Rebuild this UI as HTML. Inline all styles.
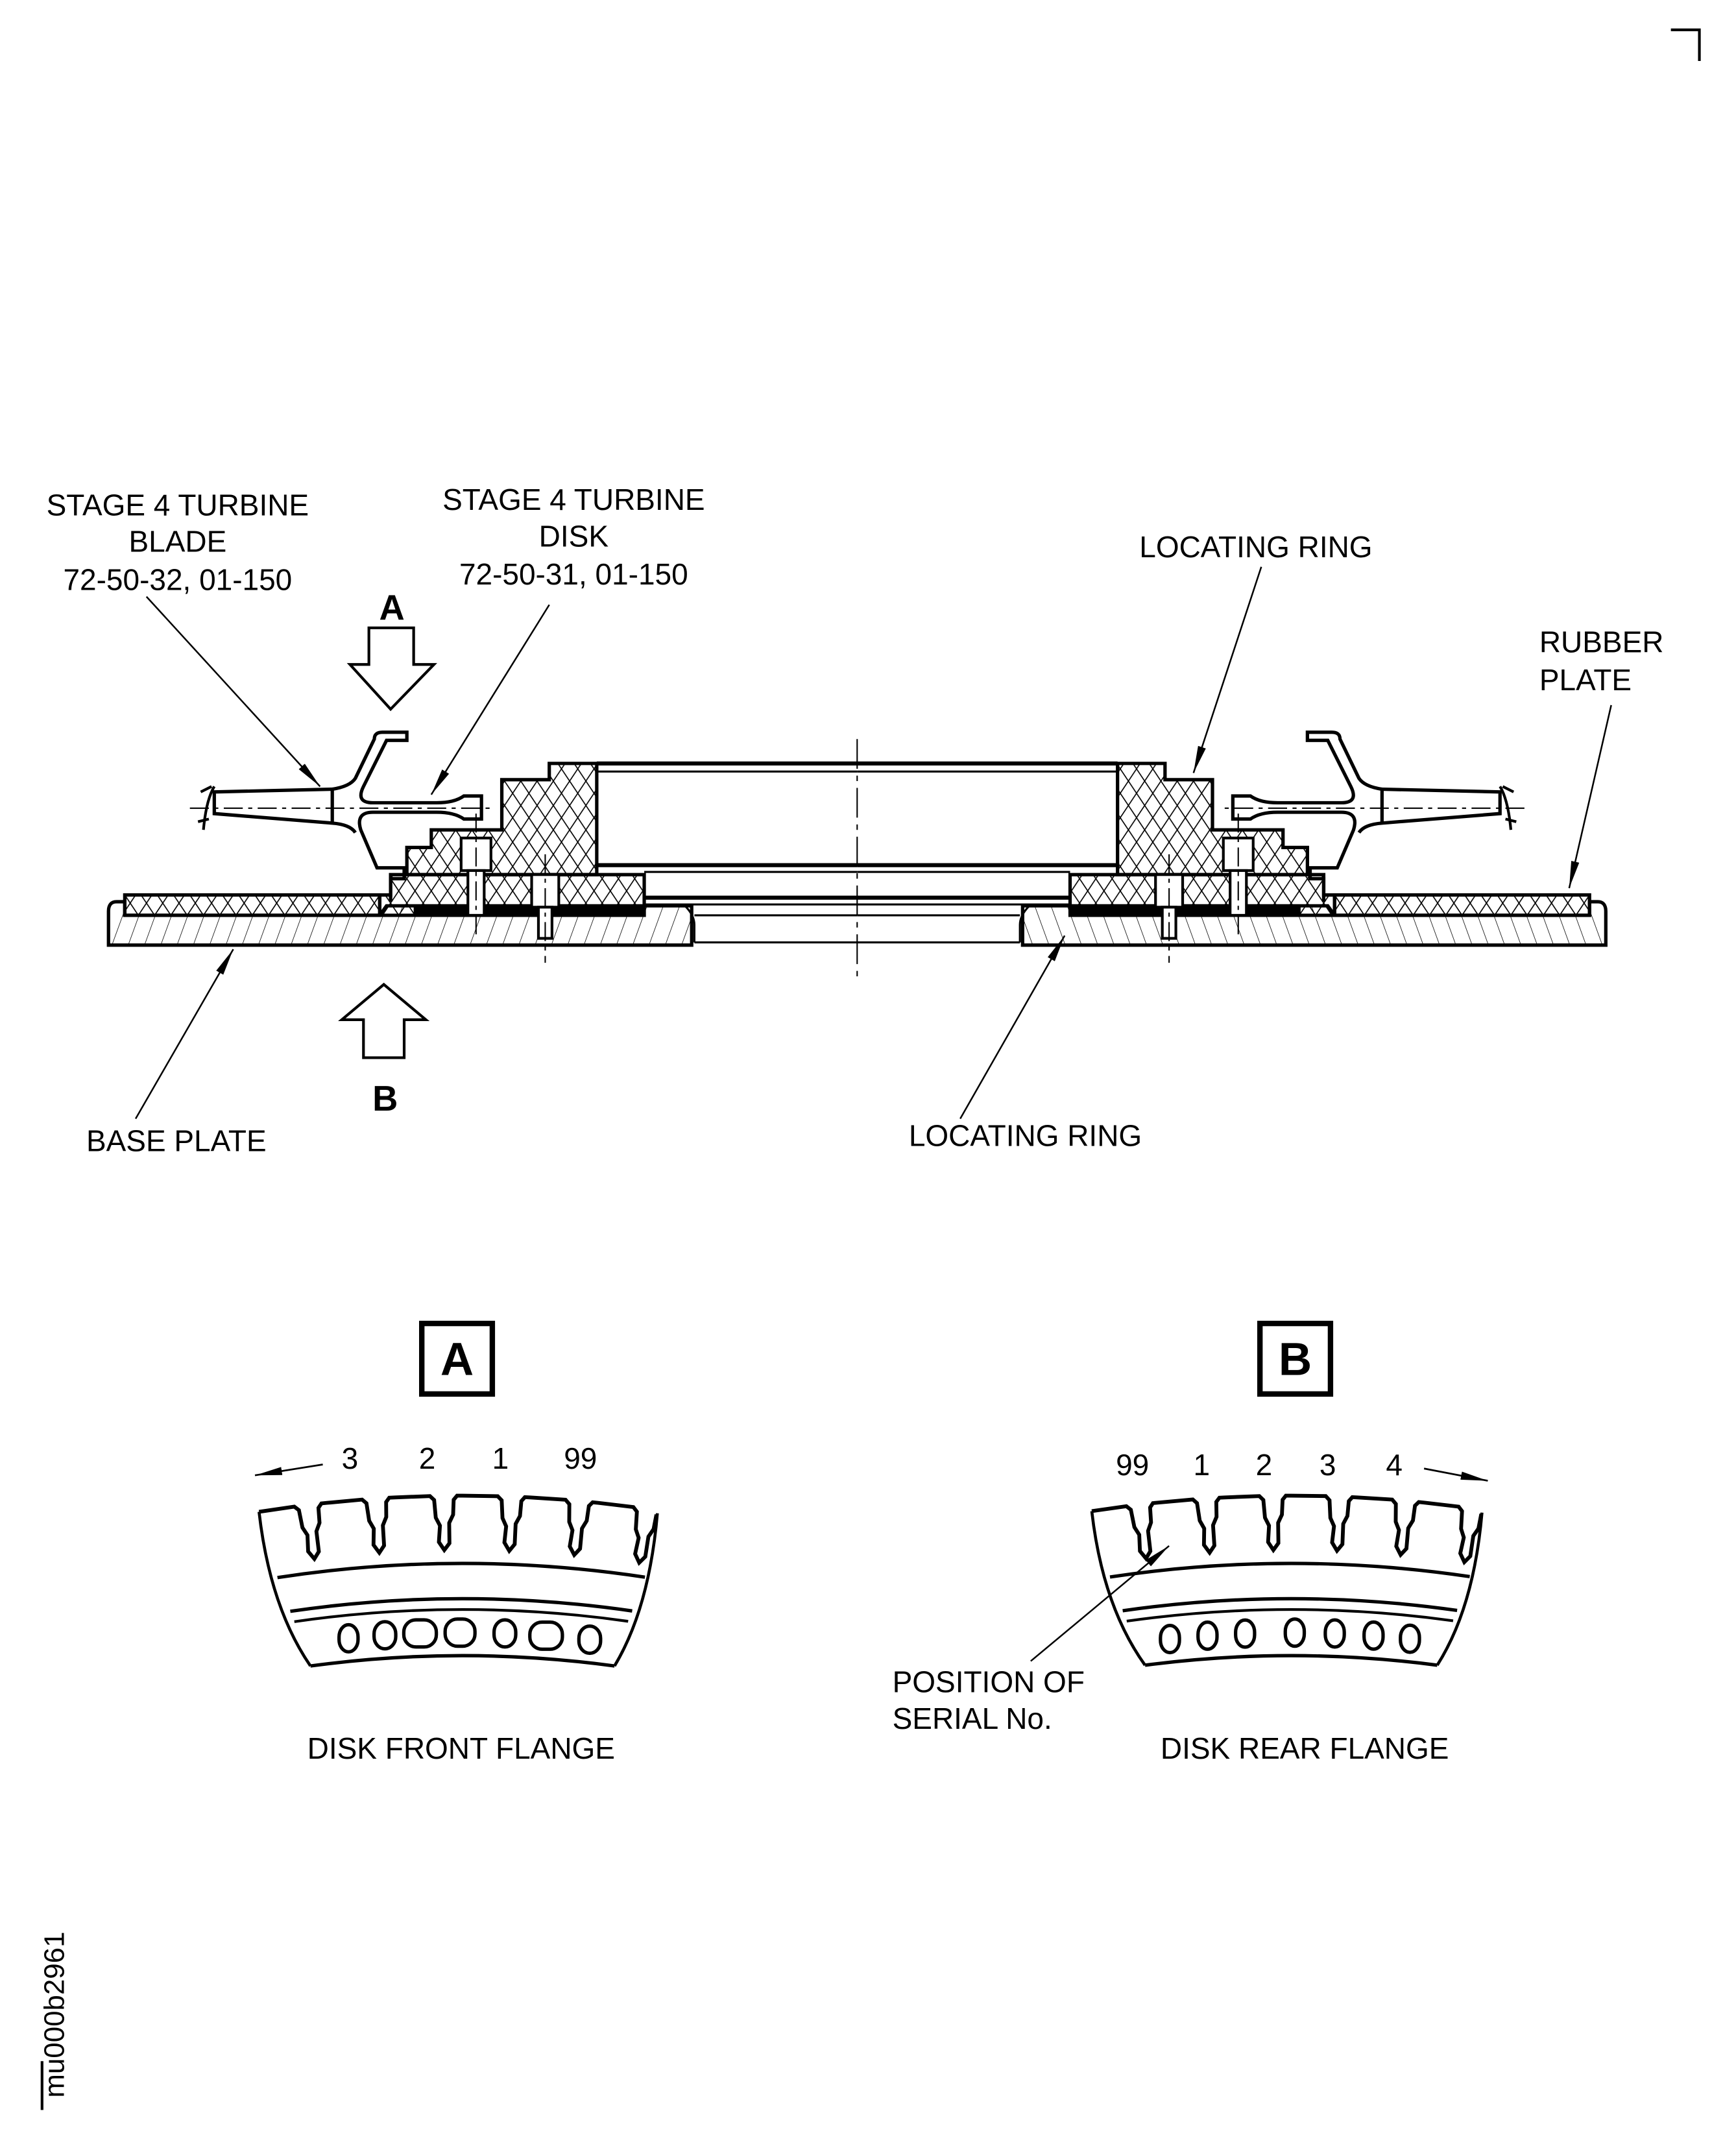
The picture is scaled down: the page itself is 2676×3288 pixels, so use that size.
<!DOCTYPE html>
<html><head><meta charset="utf-8"><style>
html,body{margin:0;padding:0;background:#fff}
svg{display:block}
text{font-family:"Liberation Sans",sans-serif;fill:#000}
</style></head><body>
<svg id="s" width="2676" height="3288" viewBox="0 0 1280 1573" preserveAspectRatio="none" xmlns="http://www.w3.org/2000/svg">
<defs>
<pattern id="xh" width="12" height="18" patternUnits="userSpaceOnUse">
<path d="M0 0L12 18M12 0L0 18" stroke="#000" stroke-width="0.8"/>
</pattern>
<pattern id="dh" width="12" height="40" patternUnits="userSpaceOnUse" patternTransform="skewX(-20)">
<path d="M0 0V40" stroke="#000" stroke-width="0.8"/>
</pattern>
<marker id="ar2" markerWidth="20" markerHeight="8" refX="20" refY="4" orient="auto" markerUnits="userSpaceOnUse">
<path d="M0 1L20 4L0 7Z" fill="#000"/>
</marker>
</defs>

<path d="M1232 22H1253V45" fill="none" stroke="#000" stroke-width="2"/>
<path d="M31 1520V1556" fill="none" stroke="#000" stroke-width="2"/>
<text x="0" y="0" font-size="21" transform="translate(47 1547) rotate(-90)">mu000b2961</text>

<g font-size="22" text-anchor="middle">
<text x="131" y="380">STAGE 4 TURBINE</text>
<text x="131" y="407">BLADE</text>
<text x="131" y="435">72-50-32, 01-150</text>
<text x="423" y="376">STAGE 4 TURBINE</text>
<text x="423" y="403">DISK</text>
<text x="423" y="431">72-50-31, 01-150</text>
<text x="926" y="411">LOCATING RING</text>
<text x="130" y="849">BASE PLATE</text>
<text x="756" y="845">LOCATING RING</text>
<text x="340" y="1297">DISK FRONT FLANGE</text>
<text x="962" y="1297">DISK REAR FLANGE</text>
</g>
<g font-size="22">
<text x="1135" y="481">RUBBER</text>
<text x="1135" y="509">PLATE</text>
<text x="658" y="1248">POSITION OF</text>
<text x="658" y="1275">SERIAL No.</text>
</g>
<text x="289" y="457" font-size="26" font-weight="bold" text-anchor="middle">A</text>
<text x="284" y="819" font-size="26" font-weight="bold" text-anchor="middle">B</text>

<path d="M272 463H305V490H320L288 523L258 490H272Z" fill="#fff" stroke="#000" stroke-width="2"/>
<path d="M268 780H298V752H314L283 726L252 752H268Z" fill="#fff" stroke="#000" stroke-width="2"/>

<g stroke="#000" stroke-width="1.2" fill="none">
<line x1="108" y1="440" x2="236" y2="580" marker-end="url(#ar2)"/>
<line x1="405" y1="446" x2="318" y2="586" marker-end="url(#ar2)"/>
<line x1="930" y1="418" x2="880" y2="570" marker-end="url(#ar2)"/>
<line x1="1188" y1="520" x2="1157" y2="655" marker-end="url(#ar2)"/>
<line x1="100" y1="825" x2="172" y2="700" marker-end="url(#ar2)"/>
<line x1="708" y1="825" x2="785" y2="690" marker-end="url(#ar2)"/>
<line x1="760" y1="1225" x2="862" y2="1140" marker-end="url(#ar2)"/>
</g>

<g id="half" stroke="#000" fill="none">
<path d="M80 672Q80 665 86 665H92V675H280L285 668H510V697H80Z" fill="url(#dh)" stroke-width="2.5"/>
<rect x="92" y="660" width="188" height="15" fill="url(#xh)" stroke-width="2.5"/>
<path d="M505 668Q512 675 512 682V695" stroke-width="1.5"/>
<line x1="512" y1="675" x2="632" y2="675" stroke-width="1.5"/>
<line x1="512" y1="695" x2="632" y2="695" stroke-width="1.5"/>
<path d="M280 675V660H288V645H475V675Z" fill="url(#xh)" stroke-width="2.5"/>
<rect x="305" y="669" width="170" height="6" fill="#000" stroke="none"/>
<path d="M300 645V625H318V612H370V575H405V563H440V645Z" fill="url(#xh)" stroke-width="2.5"/>
<line x1="440" y1="563" x2="632" y2="563" stroke-width="3"/>
<line x1="440" y1="569" x2="632" y2="569" stroke-width="1.5"/>
<line x1="440" y1="638" x2="632" y2="638" stroke-width="3"/>
<line x1="475" y1="643" x2="632" y2="643" stroke-width="1.5"/>
<line x1="475" y1="662" x2="632" y2="662" stroke-width="3"/>
<line x1="475" y1="667" x2="632" y2="667" stroke-width="1.5"/>
<rect x="340" y="618" width="22" height="24" fill="#fff" stroke-width="2"/>
<rect x="345" y="642" width="12" height="33" fill="#fff" stroke-width="2"/>
<line x1="351" y1="600" x2="351" y2="690" stroke-width="1" stroke-dasharray="14 4 3 4"/>
<rect x="392" y="645" width="20" height="24" fill="#fff" stroke-width="2"/>
<rect x="397" y="669" width="10" height="23" fill="#fff" stroke-width="2"/>
<line x1="402" y1="630" x2="402" y2="710" stroke-width="1" stroke-dasharray="14 4 3 4"/>
<path d="M158 584L245 582V607L158 600Z" fill="#fff" stroke-width="2.5"/>
<path d="M158 580Q152 590 150 612M148 584L156 580M146 606L154 604" stroke-width="2"/>
<path d="M245 582Q258 580 262 574L276 545Q276 540 282 540H300V546H285L268 580Q262 592 275 592H322Q335 592 342 587H355V604H342Q335 599 322 599H275Q262 599 266 612L278 640H298V648H288V665" stroke-width="2.5"/>
<path d="M245 607Q258 608 262 614" stroke-width="2.5"/>
<line x1="140" y1="596" x2="365" y2="596" stroke-width="1" stroke-dasharray="14 4 3 4"/>
</g>
<use href="#half" transform="translate(1264 0) scale(-1 1)"/>
<line x1="632" y1="545" x2="632" y2="722" stroke="#000" stroke-width="1" stroke-dasharray="22 5 4 5"/>

<rect x="311" y="976" width="52" height="52" fill="none" stroke="#000" stroke-width="4"/>
<text x="337" y="1014" font-size="34" font-weight="bold" text-anchor="middle">A</text>
<rect x="929" y="976" width="52" height="52" fill="none" stroke="#000" stroke-width="4"/>
<text x="955" y="1014" font-size="34" font-weight="bold" text-anchor="middle">B</text>

<g font-size="22" text-anchor="middle">
<text x="258" y="1083">3</text><text x="315" y="1083">2</text><text x="369" y="1083">1</text><text x="428" y="1083">99</text>
<text x="835" y="1088">99</text><text x="886" y="1088">1</text><text x="932" y="1088">2</text><text x="979" y="1088">3</text><text x="1028" y="1088">4</text>
</g>
<line x1="238" y1="1080" x2="188" y2="1088" stroke="#000" stroke-width="1.3" marker-end="url(#ar2)"/>
<line x1="1050" y1="1083" x2="1097" y2="1092" stroke="#000" stroke-width="1.3" marker-end="url(#ar2)"/>
<g id="flanges" stroke="#000" fill="none" stroke-width="2.2"></g>
</svg>
<script>
(function(){
var g=document.getElementById('flanges'),NS='http://www.w3.org/2000/svg';
function el(t,a){var e=document.createElementNS(NS,t);for(var k in a)e.setAttribute(k,a[k]);g.appendChild(e);return e;}
function fl(cx,top,hw,n,bw,holes){
 var R=950,cy=top+R;
 function pt(x,dy){var ang=Math.asin((x-cx)/R);var r=R-dy;return [cx+r*Math.sin(ang),cy-r*Math.cos(ang)];}
 var d='',L=cx-hw,Rr=cx+hw,p=(Rr-L)/n;
 var q=pt(L,0);d+='M'+q[0].toFixed(1)+' '+q[1].toFixed(1);
 for(var i=0;i<n;i++){
  var x0=L+i*p,pts=[[x0+p*0.52,0],[x0+p*0.58,3],[x0+p*0.6,16],[x0+p*0.66,22],[x0+p*0.64,34],[x0+p*0.72,40],[x0+p*0.8,35],[x0+p*0.8,20],[x0+p*0.86,14],[x0+p*0.87,3],[x0+p*0.92,0],[x0+p,0]];
  if(i==n-1)pts=pts.slice(0,10);
  pts.forEach(function(a){var r=pt(a[0],a[1]);d+='L'+r[0].toFixed(1)+' '+r[1].toFixed(1);});
 }
 el('path',{d:d,'stroke-width':2.8});
 var a1=pt(L,0),b1=pt(L+bw,118),a2=pt(Rr-6,2),b2=pt(Rr-bw,118);
 el('path',{d:'M'+a1+' Q'+(a1[0]+8)+' '+(a1[1]+70)+' '+b1});
 el('path',{d:'M'+a2+' Q'+(a2[0]-6)+' '+(a2[1]+70)+' '+b2});
 function arc(dy,x1,x2,w){var s=pt(x1,dy),e=pt(x2,dy);el('path',{d:'M'+s+' A'+(R-dy)+' '+(R-dy)+' 0 0 1 '+e,'stroke-width':w||2.2});}
 arc(50,L+6,Rr-8,2.5);arc(76,L+12,Rr-14,2.5);arc(84,L+14,Rr-16,2);arc(118,L+bw,Rr-bw,2.5);
 for(var j=0;j<holes.length;j++){var h=pt(holes[j][0],101);el('rect',{x:h[0]-holes[j][1]/2,y:h[1]-10,width:holes[j][1],height:20,rx:Math.min(9,holes[j][1]/2),ry:9,'stroke-width':2.5});}
}
fl(341,1103,150,6,22,[[247,14],[277,16],[306,24],[339,22],[376,16],[410,24],[446,16]]);
fl(952,1103,147,6,24,[[852,14],[883,14],[914,14],[955,14],[988,14],[1020,14],[1050,14]]);
})();
</script>
</body></html>
